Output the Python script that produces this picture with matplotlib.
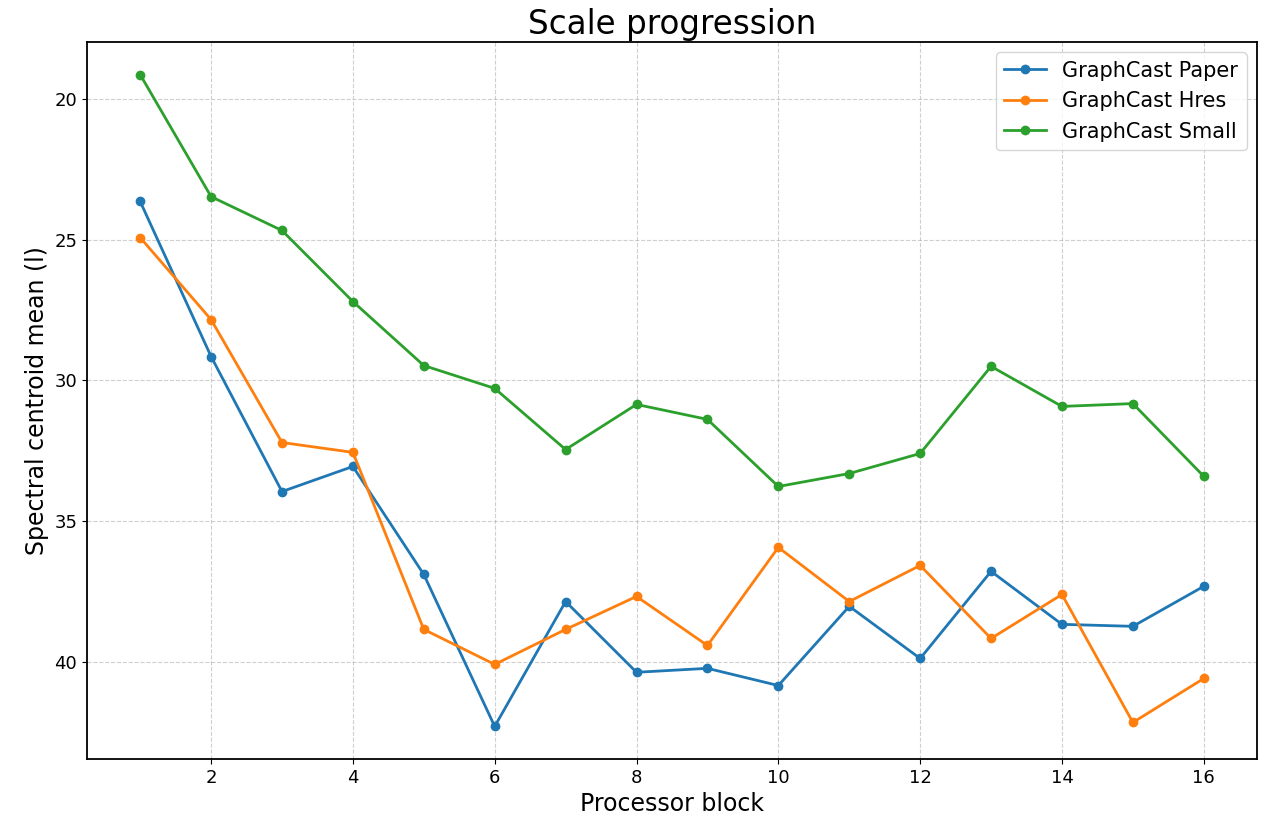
import matplotlib.pyplot as plt

blocks = list(range(1, 17))

paper = [23.65, 29.15, 33.94, 33.05, 36.88, 42.27, 37.84, 40.35,
         40.21, 40.82, 38.01, 39.86, 36.77, 38.65, 38.72, 37.30]
hres = [24.93, 27.84, 32.20, 32.55, 38.83, 40.07, 38.83, 37.66,
        39.40, 35.92, 37.84, 36.56, 39.15, 37.59, 42.13, 40.57]
small = [19.15, 23.48, 24.68, 27.20, 29.47, 30.28, 32.45, 30.85,
         31.38, 33.76, 33.30, 32.59, 29.50, 30.92, 30.82, 33.40]

fig, ax = plt.subplots(figsize=(12.68, 8.15), dpi=100)

ax.plot(blocks, paper, marker='o', linewidth=2, label='GraphCast Paper')
ax.plot(blocks, hres, marker='o', linewidth=2, label='GraphCast Hres')
ax.plot(blocks, small, marker='o', linewidth=2, label='GraphCast Small')

ax.invert_yaxis()
ax.set_title('Scale progression', fontsize=23.5)
ax.set_xlabel('Processor block', fontsize=17)
ax.set_ylabel('Spectral centroid mean (l)', fontsize=17)
ax.tick_params(labelsize=13)
ax.grid(True, linestyle='--', alpha=0.6)
ax.legend(fontsize=15)
for s in ax.spines.values():
    s.set_linewidth(1.3)

fig.subplots_adjust(left=0.0686, right=0.9913, top=0.9485, bottom=0.0687)
fig.savefig('out.png')
